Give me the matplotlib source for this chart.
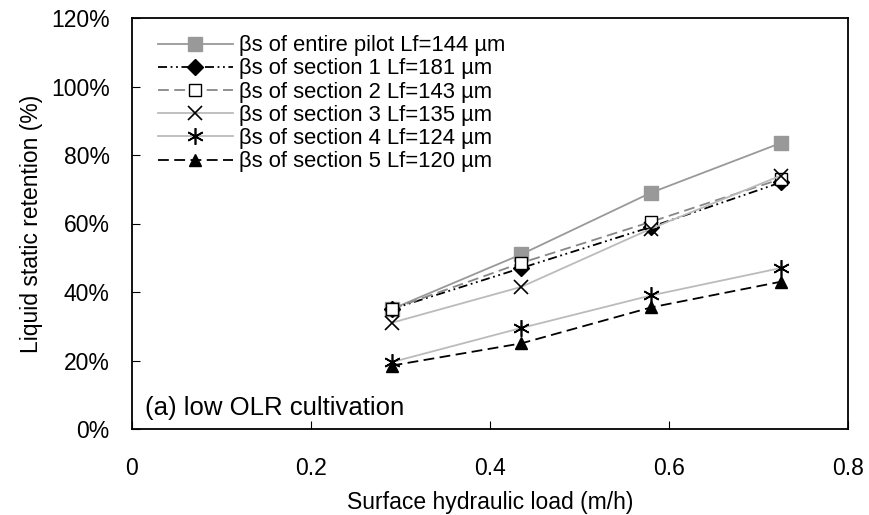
import matplotlib.pyplot as plt
from matplotlib.ticker import PercentFormatter

plt.rcParams['font.family'] = ['Liberation Sans', 'DejaVu Sans']

load = [0.29, 0.435, 0.58, 0.725]
entire = [35, 51, 69, 83.5]
sec1 = [35, 47, 59, 72]
sec2 = [35, 48.5, 60.5, 73]
sec3 = [31, 41.5, 58.5, 74]
sec4 = [19.5, 29.5, 39, 47]
sec5 = [18.5, 25, 35.5, 43]

fig = plt.figure(figsize=(8.69, 5.15), dpi=100)
ax = fig.add_axes([132/869, 1 - 429/515, (848-132)/869, (429-18)/515])

ax.plot(load, entire, color='#999999', lw=1.3, marker='s', ms=10, mfc='#999999', mec='#999999',
        label='βs of entire pilot Lf=144 µm')
ax.plot(load, sec1, color='black', lw=1.3, ls=(0, (5, 2, 1, 2, 1, 2)), marker='D', ms=8, mfc='black',
        label='βs of section 1 Lf=181 µm')
ax.plot(load, sec2, color='#888888', lw=1.3, ls=(0, (6, 3)), marker='s', ms=8, mfc='white', mec='black',
        label='βs of section 2 Lf=143 µm')
ax.plot(load, sec3, color='#bbbbbb', lw=1.3, marker='x', ms=10, mec='black', mew=1.2,
        label='βs of section 3 Lf=135 µm')
ax.plot(load, sec4, color='#bbbbbb', lw=1.3, marker=(6, 2, 0), ms=12, mec='black', mew=1.2,
        label='βs of section 4 Lf=124 µm')
ax.plot(load, sec5, color='black', lw=1.3, ls=(0, (6, 3)), marker='^', ms=9, mfc='black',
        label='βs of section 5 Lf=120 µm')

ax.set_xlim(0, 0.8)
ax.set_ylim(0, 120)
ax.set_xticks([0, 0.2, 0.4, 0.6, 0.8])
ax.set_xticklabels(['0', '0.2', '0.4', '0.6', '0.8'])
ax.set_yticks(range(0, 121, 20))
ax.yaxis.set_major_formatter(PercentFormatter(decimals=0))
ax.tick_params(direction='in', labelsize=16.5, length=6)
ax.tick_params(axis='x', pad=20)
ax.tick_params(axis='y', pad=16)
for s in ax.spines.values():
    s.set_linewidth(1.3)

ax.set_xlabel('Surface hydraulic load (m/h)', fontsize=16.5, labelpad=8)
ax.set_ylabel('Liquid static retention (%)', fontsize=16.5, labelpad=6)
ax.text(0.015, 4, '(a) low OLR cultivation', fontsize=18.5)

ax.legend(loc='upper left', bbox_to_anchor=(0.018, 0.99), frameon=False, fontsize=15.8,
          handlelength=3.4, handletextpad=0.3, labelspacing=0.1, borderaxespad=0.2)

fig.savefig('out.png', dpi=100)
